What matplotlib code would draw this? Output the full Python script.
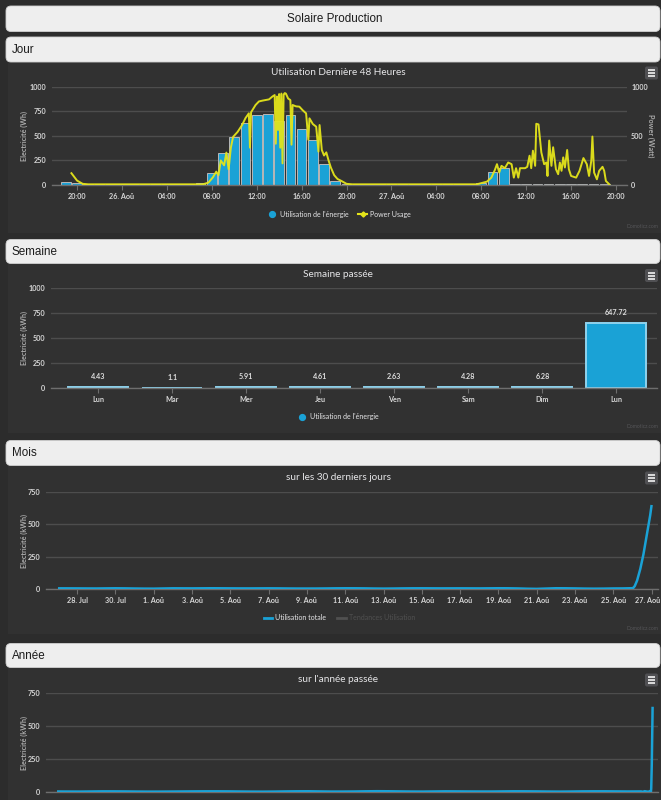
import matplotlib
matplotlib.use('Agg')
import matplotlib.pyplot as plt
from matplotlib.patches import FancyBboxPatch, Rectangle, PathPatch
from matplotlib.path import Path
from matplotlib.transforms import ScaledTranslation
import matplotlib.dates as mdates
import pandas as pd

# ---------------- data ----------------
# Jour: hours counted from 25 Aug 00:00
bar_hours = list(range(19, 68))
bar_wh = [27, 24,
          14, 14, 14, 14, 14, 14, 14, 14, 14, 14, 17,
          125, 322, 491, 634, 712, 722, 651, 712, 566, 458, 214, 44,
          12, 12, 12, 12, 12, 12, 12, 12, 12, 12, 12, 12,
          17, 134, 171,
          10, 10, 10, 10, 10, 10, 10, 10, 10]

power_hours = [19.5, 20.0, 20.5, 21.0, 31.2, 31.7, 32.1, 32.4, 32.6, 32.8,
               33.1, 33.3, 33.5, 33.7, 33.9, 34.3, 34.7, 35.0, 35.3, 35.4,
               35.5, 35.9, 36.2, 36.5, 37.1, 37.4, 37.6, 37.7, 37.8, 37.9,
               38.0, 38.1, 38.2, 38.3, 38.4, 38.5, 38.6, 38.8, 39.0, 39.1,
               39.2, 39.5, 39.8, 40.1, 40.4, 40.6, 40.7, 41.0, 41.3, 41.5,
               41.6, 41.8, 42.0, 42.2, 42.4, 42.6, 42.9, 43.2, 43.5, 44.0,
               44.5, 55.6, 56.5, 56.9, 57.2, 57.4, 57.6, 57.8, 58.1, 58.4,
               58.7, 58.9, 59.1, 59.3, 59.45, 59.9, 60.1, 60.3, 60.45, 60.6,
               60.8, 60.9, 61.1, 61.35, 61.6, 61.8, 61.9, 62.05, 62.25, 62.4,
               62.65, 62.85, 63.0, 63.15, 63.3, 63.45, 63.65, 63.8, 64.0, 64.45,
               64.75, 65.1, 65.4, 65.6, 65.8, 65.9, 66.05, 66.3, 66.5, 66.8,
               66.95, 67.1, 67.4]
power_watts = [120, 45, 12, 7, 7, 24, 78, 136, 100, 250,
               200, 330, 160, 380, 490, 540, 610, 680, 729, 380,
               740, 814, 850, 858, 871, 900, 915, 420, 900, 560,
               925, 380, 930, 220, 920, 935, 930, 880, 864, 410,
               814, 800, 797, 760, 729, 460, 678, 620, 593, 340,
               610, 356, 300, 332, 250, 180, 100, 61, 44, 12,
               7, 7, 34, 75, 150, 212, 127, 195, 171, 229,
               212, 75, 171, 75, 171, 171, 185, 298, 171, 349,
               195, 623, 616, 332, 212, 229, 92, 452, 195, 384,
               161, 110, 229, 144, 281, 178, 356, 161, 92, 75,
               144, 274, 212, 92, 247, 493, 127, 58, 144, 185,
               144, 41, 7]

jour_tick_hours = [20, 24, 28, 32, 36, 40, 44, 48, 52, 56, 60, 64, 68]
jour_tick_labels = ['20:00', '26. Aoû', '04:00', '08:00', '12:00', '16:00', '20:00',
                    '27. Aoû', '04:00', '08:00', '12:00', '16:00', '20:00']

# Semaine
week_days = ['Lun', 'Mar', 'Mer', 'Jeu', 'Ven', 'Sam', 'Dim', 'Lun']
week_kwh = [4.43, 1.1, 5.91, 4.61, 2.63, 4.28, 6.28, 647.72]

# Mois
month_dates = pd.date_range('2018-07-27', '2018-08-27', freq='D')
month_kwh = [5.2, 4.8, 4.1, 5.6, 3.9, 2.8, 5.4, 4.9, 5.8, 5.1,
             4.6, 5.3, 4.2, 3.6, 4.4, 5.7, 5.0, 3.2, 4.8, 5.5,
             4.9, 5.2, 4.7, 5.9, 4.43, 1.1, 5.91, 4.61, 2.63, 4.28,
             6.28, 647.72]

# Année
year_dates = list(pd.date_range('2017-08-27', '2018-08-12', freq='14D')) + \
             list(pd.date_range('2018-08-20', '2018-08-27', freq='D'))
year_kwh = [4.1, 3.2, 5.0, 4.4, 2.9, 3.6, 4.8, 5.2, 3.9, 2.7,
            4.5, 5.6, 3.4, 4.0, 6.1, 4.7, 3.3, 5.1, 4.2, 3.8,
            5.4, 4.6, 3.1, 4.9, 5.3, 4.0,
            4.43, 1.1, 5.91, 4.61, 2.63, 4.28, 6.28, 647.72]

# ---------------- style ----------------
W, H = 661, 800
PAGE = '#2c2c2c'
PANEL = '#313131'
BLUE = '#1aa2d6'
YELLOW = '#e4e41a'
GRID = '#4d4d4d'
AXIS = '#6e6e6e'
TXT = '#e6e6e8'
TICK = '#d6d6d6'
FONT = ['Lato', 'DejaVu Sans']
HFONT = ['Liberation Sans', 'DejaVu Sans']
plt.rcParams['font.family'] = FONT

fig = plt.figure(figsize=(6.61, 8.0), dpi=100)
fig.patch.set_facecolor(PAGE)


def rect(x0, y0, x1, y1):
    return [x0 / W, 1 - y1 / H, (x1 - x0) / W, (y1 - y0) / H]


bg = fig.add_axes([0, 0, 1, 1], zorder=0)
bg.set_xlim(0, W)
bg.set_ylim(H, 0)
bg.axis('off')

# chart panels
for (y0, y1) in [(62, 233), (264, 433), (466, 634), (668, 800)]:
    bg.add_patch(Rectangle((8, y0), W - 8, y1 - y0, facecolor=PANEL, edgecolor='none'))

# header boxes
headers = [('Solaire Production', 6, 31.5, 'center'),
           ('Jour', 37, 62, 'left'),
           ('Semaine', 239.5, 263.5, 'left'),
           ('Mois', 440.5, 465.5, 'left'),
           ('Année', 643.5, 667.5, 'left')]
for text, y0, y1, ha in headers:
    bg.add_patch(FancyBboxPatch((6, y0), 654, y1 - y0,
                                boxstyle='round,pad=0,rounding_size=5',
                                facecolor='#eeeeee', edgecolor='#d0d0d0', lw=0.6))
    xt = 335 if ha == 'center' else 12
    bg.text(xt, (y0 + y1) / 2 + 0.5, text, ha=ha, va='center', fontsize=8.4,
            color='#1c1c1c', family=HFONT)


def menu_icon(y0):
    bg.add_patch(FancyBboxPatch((645, y0), 13, 13, boxstyle='round,pad=0,rounding_size=2',
                                facecolor='#505053', edgecolor='none'))
    for dy in (3.5, 6.5, 9.5):
        bg.plot([648, 655], [y0 + dy, y0 + dy], color='#e6e6e6', lw=1.3,
                solid_capstyle='butt')


def credits(y):
    bg.text(658, y, 'Domoticz.com', ha='right', va='center', fontsize=3.6, color='#555558')


def style_axis(ax, ylim, yticks):
    ax.set_facecolor('none')
    ax.set_ylim(*ylim)
    ax.set_yticks(yticks)
    ax.set_yticklabels([str(t) for t in yticks], fontweight='bold')
    ax.grid(axis='y', color=GRID, lw=1)
    ax.set_axisbelow(True)
    for s in ('top', 'right', 'left'):
        ax.spines[s].set_visible(False)
    ax.spines['bottom'].set_color(AXIS)
    ax.spines['bottom'].set_linewidth(1)
    ax.tick_params(axis='y', length=0, pad=4, labelsize=5.2, labelcolor=TICK)
    ax.tick_params(axis='x', length=3.5, width=0.8, color=AXIS, pad=2.5,
                   labelsize=5.2, labelcolor=TICK)


def ylabel(x, y, text, rot=90):
    bg.text(x, y, text, rotation=rot, ha='center', va='center', fontsize=5.2,
            color='#ababab', fontweight='bold')


def spline_path(xs, ys, smoothing=1.5):
    n = len(xs)
    lc = [None] * n
    rc = [None] * n
    for i in range(n):
        x, y = xs[i], ys[i]
        if 0 < i < n - 1:
            lx, ly = xs[i - 1], ys[i - 1]
            nx, ny = xs[i + 1], ys[i + 1]
            lcx = (smoothing * x + lx) / (smoothing + 1)
            lcy = (smoothing * y + ly) / (smoothing + 1)
            rcx = (smoothing * x + nx) / (smoothing + 1)
            rcy = (smoothing * y + ny) / (smoothing + 1)
            corr = ((rcy - lcy) * (rcx - x)) / (rcx - lcx) + y - rcy
            lcy += corr
            rcy += corr
            if lcy > ly and lcy > y:
                lcy = max(ly, y); rcy = 2 * y - lcy
            elif lcy < ly and lcy < y:
                lcy = min(ly, y); rcy = 2 * y - lcy
            if rcy > ny and rcy > y:
                rcy = max(ny, y); lcy = 2 * y - rcy
            elif rcy < ny and rcy < y:
                rcy = min(ny, y); lcy = 2 * y - rcy
            lc[i] = (lcx, lcy)
            rc[i] = (rcx, rcy)
        else:
            lc[i] = rc[i] = (x, y)
    verts = [(xs[0], ys[0])]
    codes = [Path.MOVETO]
    for i in range(1, n):
        verts += [rc[i - 1], lc[i], (xs[i], ys[i])]
        codes += [Path.CURVE4] * 3
    return Path(verts, codes)


# ---------------- Chart 1: Jour ----------------
bg.text(338, 72.5, 'Utilisation Dernière 48 Heures', ha='center', va='center',
        fontsize=7.2, color=TXT)
menu_icon(66.5)
ax1 = fig.add_axes(rect(52, 86.7, 627, 185), zorder=2)
ax1.bar(bar_hours, bar_wh, width=0.86, color=BLUE, edgecolor='#b8b8b8', linewidth=0.7,
        zorder=2)
ax1.plot(power_hours, power_watts, color=YELLOW, lw=1.4, zorder=3, solid_joinstyle='round',
         alpha=0.95)
ax1.set_xlim(17.77, 68.98)
ax1.set_xticks(jour_tick_hours)
ax1.set_xticklabels(jour_tick_labels, fontweight='bold')
style_axis(ax1, (0, 1000), [0, 250, 500, 750, 1000])
ax1r = ax1.twinx()
ax1r.set_ylim(0, 1000)
ax1r.set_yticks([0, 500, 1000])
ax1r.set_yticklabels(['0', '500', '1000'], fontweight='bold')
for s in ax1r.spines.values():
    s.set_visible(False)
ax1r.tick_params(axis='y', length=0, pad=3, labelsize=5.2, labelcolor=TICK)
ylabel(24, 136, 'Electricité (Wh)')
ylabel(651, 136, 'Power (Watt)', rot=270)
# legend
bg.plot([272.3], [214.3], 'o', color=BLUE, ms=4.2)
bg.text(279.5, 214.5, "Utilisation de l'énergie", ha='left', va='center', fontsize=5,
        color=TXT)
bg.plot([358, 367], [214.3, 214.3], color=YELLOW, lw=1.5)
bg.plot([362.5], [214.3], 'D', color=YELLOW, ms=2.6)
bg.text(369.5, 214.5, 'Power Usage', ha='left', va='center', fontsize=5, color=TXT)
credits(226)

# ---------------- Chart 2: Semaine ----------------
bg.text(338, 274.5, 'Semaine passée', ha='center', va='center', fontsize=7.2, color=TXT)
menu_icon(269)
ax2 = fig.add_axes(rect(50.6, 288.3, 657, 387.7), zorder=2)
xs2 = list(range(len(week_days)))
ax2.bar(xs2, week_kwh, width=0.81, color=BLUE, edgecolor='#8fd3ee', linewidth=1.4, zorder=2)
for x, v in zip(xs2, week_kwh):
    ax2.annotate(f'{v:g}', (x, v), xytext=(0, 5), textcoords='offset points',
                 ha='center', va='bottom', fontsize=5.2, color='#dddddd', fontweight='bold')
ax2.set_xlim(-0.643, 7.548)
ax2.set_xticks(xs2)
ax2.set_xticklabels(week_days, fontweight='bold')
style_axis(ax2, (0, 1000), [0, 250, 500, 750, 1000])
ylabel(24, 338, 'Electricité (kWh)')
bg.plot([302.3], [416.7], 'o', color=BLUE, ms=4.2)
bg.text(310, 417, "Utilisation de l'énergie", ha='left', va='center', fontsize=5, color=TXT)
credits(427)

# ---------------- Chart 3: Mois ----------------
bg.text(338, 477, 'sur les 30 derniers jours', ha='center', va='center', fontsize=7.2,
        color=TXT)
menu_icon(471.5)
ax3 = fig.add_axes(rect(46, 491.7, 658, 589), zorder=2)
mx = mdates.date2num(month_dates.to_pydatetime())
ax3.add_patch(PathPatch(spline_path(list(mx), month_kwh), fill=False, edgecolor=BLUE,
                        lw=1.8, zorder=3))
ax3.set_xlim(mdates.date2num(pd.Timestamp('2018-07-26 09:00')),
             mdates.date2num(pd.Timestamp('2018-08-27 08:00')))
tick_dates = pd.date_range('2018-07-28', '2018-08-27', freq='2D')
ax3.set_xticks(mdates.date2num(tick_dates.to_pydatetime()))
ax3.set_xticklabels([f"{d.day}. {'Jul' if d.month == 7 else 'Aoû'}" for d in tick_dates],
                    fontweight='bold')
style_axis(ax3, (0, 750), [0, 250, 500, 750])
last = ax3.get_xticklabels()[-1]
last.set_horizontalalignment('right')
last.set_transform(last.get_transform() + ScaledTranslation(9 / 100, 0, fig.dpi_scale_trans))
ylabel(24, 541, 'Electricité (kWh)')
bg.plot([263.5, 272], [617.7, 617.7], color=BLUE, lw=2)
bg.text(275, 618, 'Utilisation totale', ha='left', va='center', fontsize=5, color=TXT)
bg.plot([337, 345.7], [617.7, 617.7], color='#505050', lw=2)
bg.text(349, 618, 'Tendances Utilisation', ha='left', va='center', fontsize=5,
        color='#505050')
credits(628)

# ---------------- Chart 4: Année ----------------
bg.text(338, 679, "sur l'année passée", ha='center', va='center', fontsize=7.2, color=TXT)
menu_icon(673.5)
ax4 = fig.add_axes(rect(46, 693.3, 658, 792), zorder=2)
yx = mdates.date2num([pd.Timestamp(d).to_pydatetime() for d in year_dates])
ax4.add_patch(PathPatch(spline_path(list(yx), year_kwh), fill=False, edgecolor=BLUE,
                        lw=1.8, zorder=3))
ax4.set_xlim(mdates.date2num(pd.Timestamp('2017-08-20 06:00')),
             mdates.date2num(pd.Timestamp('2018-08-30 07:30')))
ax4.set_xticks([])
style_axis(ax4, (0, 750), [0, 250, 500, 750])
ylabel(24, 743, 'Electricité (kWh)')

fig.savefig('out.png', dpi=100, facecolor=fig.get_facecolor())
